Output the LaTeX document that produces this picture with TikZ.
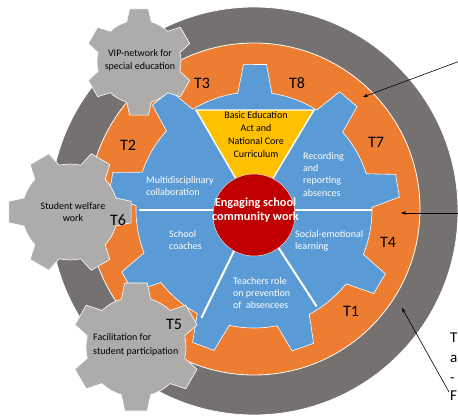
\documentclass[tikz,border=0pt]{standalone}
\usepackage{fontspec}
\setmainfont{Carlito}
\usetikzlibrary{arrows.meta}
\definecolor{ringgray}{HTML}{767171}
\definecolor{geargray}{HTML}{AEABAB}
\definecolor{orng}{HTML}{ED7D31}
\definecolor{blu}{HTML}{5B9BD5}
\definecolor{yel}{HTML}{FFC000}
\definecolor{rd}{HTML}{C00000}
\newcommand\mygear[5]{% cx, cy, rtip, rbody, offset
 \begin{scope}[shift={(#1,#2)}, yscale=-1]
  \filldraw[fill=geargray, draw=white, line width=0.6pt] ({#5-17}:#4)
   \foreach \k in {0,...,5} { -- ({#5+60*\k-10}:#3) -- ({#5+60*\k+10}:#3) -- ({#5+60*\k+17}:#4)
   arc[start angle={#5+60*\k+17}, end angle={#5+60*\k+43}, radius=#4] } -- cycle;
 \end{scope}}
\begin{document}
\begin{tikzpicture}[x=1pt,y=-1pt,
  tlbl/.style={font=\fontsize{16}{18}\selectfont, text=black, inner sep=0pt},
  blbl/.style={font=\fontsize{10}{13}\selectfont, text=black, inner sep=0pt},
  wlbl/.style={font=\fontsize{10}{12.3}\selectfont, text=white, inner sep=0pt, align=left, anchor=north west},
  arr/.style={draw=black, line width=0.6pt, -{Stealth[length=5pt,width=3.6pt]}}]
\useasboundingbox (0,0) rectangle (458,417);
\clip (0,0) rectangle (458,417);
\fill[white] (0,0) rectangle (458,417);
% rings
\filldraw[fill=ringgray, draw=white, line width=0.8pt] (254,211) circle[radius=204];
\filldraw[fill=orng, draw=white, line width=0.8pt] (254,209) circle[radius=166];
% blue gear
\begin{scope}[shift={(254,210)}, yscale=-1]
 \filldraw[fill=blu, draw=white, line width=0.6pt] ({9.6-8.3}:118)
  \foreach \k in {0,...,8} { -- ({9.6+40*\k-4.5}:146) -- ({9.6+40*\k+4.5}:146) -- ({9.6+40*\k+8.3}:118)
  arc[start angle={9.6+40*\k+8.3}, end angle={9.6+40*\k+31.7}, radius=118] } -- cycle;
 \filldraw[fill=yel, draw=white, line width=1.4pt] (0,0) -- (-58,100) -- (60,100) -- cycle;
 \draw[white, line width=2pt] (0,0) -- (0:118);
 \draw[white, line width=2pt] (0,0) -- (180:115);
 \draw[white, line width=2pt] (0,0) -- (-57:115);
 \draw[white, line width=2pt] (0,0) -- (-116:120);
 \filldraw[fill=rd, draw=white!75!gray, line width=0.5pt] (0,-5) circle[radius=41];
\end{scope}
% outer gray gears
\mygear{139}{62}{54}{42}{30}
\mygear{70}{212}{62}{48}{0}
\mygear{136}{347}{65}{50}{30}
% texts
\node[blbl, anchor=north, align=center] (basic) at (256,111) {Basic Education\\Act and\\National Core\\Curriculum};
\node[wlbl] (multi) at (146,176) {Multidisciplinary\\collaboration};
\node[wlbl] (rec) at (303,152) {Recording\\and\\reporting\\absences};
\node[wlbl] (soc) at (295,230) {Social-emotional\\learning};
\node[wlbl] (school) at (169,230) {School\\coaches};
\node[wlbl] (teach) at (233,277) {Teachers role\\on prevention\\of~~absencees};
\node[font=\bfseries\fontsize{12.3}{14}\selectfont, text=white, align=center, inner sep=0pt] (eng) at (255.5,210) {Engaging school\\community work};
\node[blbl, anchor=north, align=center] (vip) at (140,49) {VIP-network for\\special education};
\node[blbl, anchor=north, align=center, font=\fontsize{10}{12.3}\selectfont] (welf) at (73,202) {Student welfare\\work};
\node[blbl, anchor=north west, align=left, font=\fontsize{10}{14}\selectfont] (facil) at (93,333) {Facilitation for\\student participation};
\node[tlbl] (t3) at (202,83) {T3};
\node[tlbl] (t8) at (297,83) {T8};
\node[tlbl] (t7) at (376,142) {T7};
\node[tlbl] (t4) at (388,242) {T4};
\node[tlbl] (t1) at (351,311) {T1};
\node[tlbl] (t5) at (174,324) {T5};
\node[tlbl] (t6) at (118,220) {T6};
\node[tlbl] (t2) at (128,145) {T2};
% right side cut-off text
\node[anchor=base west, inner sep=0pt, font=\fontsize{15}{18}\selectfont] (r1) at (450,342) {T};
\node[anchor=base west, inner sep=0pt, font=\fontsize{15}{18}\selectfont] (r2) at (450,362) {a};
\node[anchor=base west, inner sep=0pt, font=\fontsize{15}{18}\selectfont] (r3) at (450,382) {-};
\node[anchor=base west, inner sep=0pt, font=\fontsize{15}{18}\selectfont] (r4) at (450,400) {F};
% arrows
\coordinate (a1s) at (460,61);
\coordinate (a1e) at (363,97);
\coordinate (a2s) at (460,213);
\coordinate (a2e) at (401,213);
\coordinate (a3s) at (449,392);
\coordinate (a3e) at (402,308);
\draw[arr] (a1s) -- (a1e);
\draw[arr] (a2s) -- (a2e);
\draw[arr] (a3s) -- (a3e);
\end{tikzpicture}
\end{document}
